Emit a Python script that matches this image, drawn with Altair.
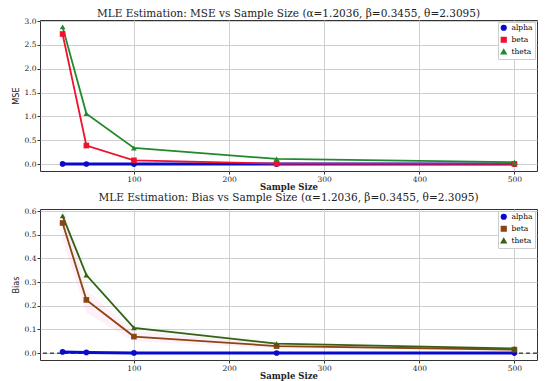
import altair as alt
import pandas as pd

sizes = [25, 50, 100, 250, 500]
params = ["alpha", "beta", "theta"]

mse_alpha = [0.004, 0.002, 0.001, 0.0005, 0.0003]
mse_beta = [2.73, 0.39, 0.08, 0.012, 0.004]
mse_theta = [2.88, 1.06, 0.34, 0.11, 0.04]

bias_alpha = [0.005, 0.003, 0.001, 0.0005, 0.0003]
bias_beta = [0.55, 0.225, 0.07, 0.03, 0.015]
bias_theta = [0.58, 0.33, 0.107, 0.04, 0.02]

band_beta_lo = [0.48, 0.17, 0.05, 0.02, 0.01]
band_beta_hi = [0.62, 0.27, 0.09, 0.04, 0.02]
band_theta_lo = [0.52, 0.28, 0.09, 0.03, 0.015]
band_theta_hi = [0.64, 0.37, 0.125, 0.05, 0.025]

mse_colors = ["#0a0acd", "#f0122d", "#218a2c"]
bias_colors = ["#0a0acd", "#8b4513", "#3b5e12"]
shapes = ["circle", "square", "triangle-up"]

title_mse = "MLE Estimation: MSE vs Sample Size (α=1.2036, β=0.3455, θ=2.3095)"
title_bias = "MLE Estimation: Bias vs Sample Size (α=1.2036, β=0.3455, θ=2.3095)"


def long_df(series):
    rows = []
    for name, vals in zip(params, series):
        for n, v in zip(sizes, vals):
            rows.append({"n": n, "value": v, "param": name})
    return pd.DataFrame(rows)


mse_df = long_df([mse_alpha, mse_beta, mse_theta])
bias_df = long_df([bias_alpha, bias_beta, bias_theta])

band_rows = []
for name, lo, hi in [("beta", band_beta_lo, band_beta_hi), ("theta", band_theta_lo, band_theta_hi)]:
    for n, a, b in zip(sizes, lo, hi):
        band_rows.append({"n": n, "lo": a, "hi": b, "param": name})
band_df = pd.DataFrame(band_rows)

W, H = 497, 151
serif = "DejaVu Serif"

x_enc = alt.X(
    "n:Q",
    scale=alt.Scale(domain=[1.25, 523.75], nice=False, zero=False),
    axis=alt.Axis(values=[100, 200, 300, 400, 500], title="Sample Size", format="d"),
)

legend_spec = alt.Legend(title=None)


def make_y(field, ydomain, yvals, ytitle):
    return alt.Y(
        field,
        scale=alt.Scale(domain=ydomain, nice=False, zero=False),
        axis=alt.Axis(values=yvals, format=".1f", title=ytitle, labelOverlap=False),
    )


def panel(df, colors, ytitle, ydomain, yvals, title, extra_fn=None):
    color = alt.Color(
        "param:N",
        scale=alt.Scale(domain=params, range=colors),
        legend=legend_spec,
    )
    shape = alt.Shape(
        "param:N",
        scale=alt.Scale(domain=params, range=shapes),
        legend=legend_spec,
    )
    y_enc = make_y("value:Q", ydomain, yvals, ytitle)
    base = alt.Chart(df)
    lines = base.mark_line().encode(
        x=x_enc,
        y=y_enc,
        color=color,
        strokeWidth=alt.condition(alt.datum.param == "alpha", alt.value(3), alt.value(1.8)),
    )
    pts = base.mark_point(filled=True, size=32, opacity=1).encode(
        x=x_enc, y=y_enc, color=color, shape=shape
    )
    layers = []
    if extra_fn is not None:
        layers.extend(extra_fn(ydomain, yvals, ytitle))
    layers.extend([lines, pts])
    return alt.layer(*layers).properties(
        width=W,
        height=H,
        title=alt.TitleParams(title, font=serif, fontSize=10.5, fontWeight="normal", color="#222", offset=-2),
    )


top = panel(
    mse_df, mse_colors, "MSE", [-0.144, 3.024], [0, 0.5, 1.0, 1.5, 2.0, 2.5, 3.0], title_mse
)


def bias_extras(ydomain, yvals, ytitle):
    bands = (
        alt.Chart(band_df)
        .mark_area(opacity=0.07)
        .encode(
            x=x_enc,
            y=make_y("lo:Q", ydomain, yvals, ytitle),
            y2="hi:Q",
            fill=alt.Fill(
                "param:N",
                scale=alt.Scale(domain=["beta", "theta"], range=["#ff3fa0", "#7fe0c0"]),
                legend=None,
            ),
        )
    )
    zero_line = (
        alt.Chart(pd.DataFrame({"z": [0]}))
        .mark_rule(color="black", strokeDash=[4, 3], strokeWidth=1)
        .encode(y=make_y("z:Q", ydomain, yvals, ytitle))
    )
    return [bands, zero_line]


bottom = panel(
    bias_df,
    bias_colors,
    "Bias",
    [-0.029, 0.609],
    [0, 0.1, 0.2, 0.3, 0.4, 0.5, 0.6],
    title_bias,
    extra_fn=bias_extras,
)

chart = (
    alt.vconcat(top, bottom, spacing=0)
    .resolve_scale(color="independent", shape="independent", fill="independent")
    .resolve_legend(color="independent", shape="independent")
    .properties(padding={"left": 2, "top": 0, "right": 0, "bottom": 0})
    .configure_view(stroke="#333", strokeWidth=1)
    .configure_axis(
        labelFont=serif,
        labelFontSize=7.5,
        labelColor="#222",
        titleFont=serif,
        titleFontSize=8.5,
        titleFontWeight="bold",
        titleColor="#222",
        grid=True,
        gridColor="#cfcfcf",
        gridWidth=1,
        domain=False,
        tickColor="#333",
        tickSize=3,
        labelPadding=1,
        titlePadding=0,
    )
    .configure_axisY(titleFont="DejaVu Sans Condensed", titleFontWeight="normal", titleFontSize=9, titlePadding=4)
    .configure_legend(
        orient="top-right",
        offset=2,
        fillColor="white",
        strokeColor="#cccccc",
        padding=2,
        labelFont=serif,
        labelFontSize=7.5,
        symbolSize=22,
        rowPadding=0,
        labelOffset=4,
    )
)

chart.save("out.html", embed_options={"renderer": "svg", "actions": False})
